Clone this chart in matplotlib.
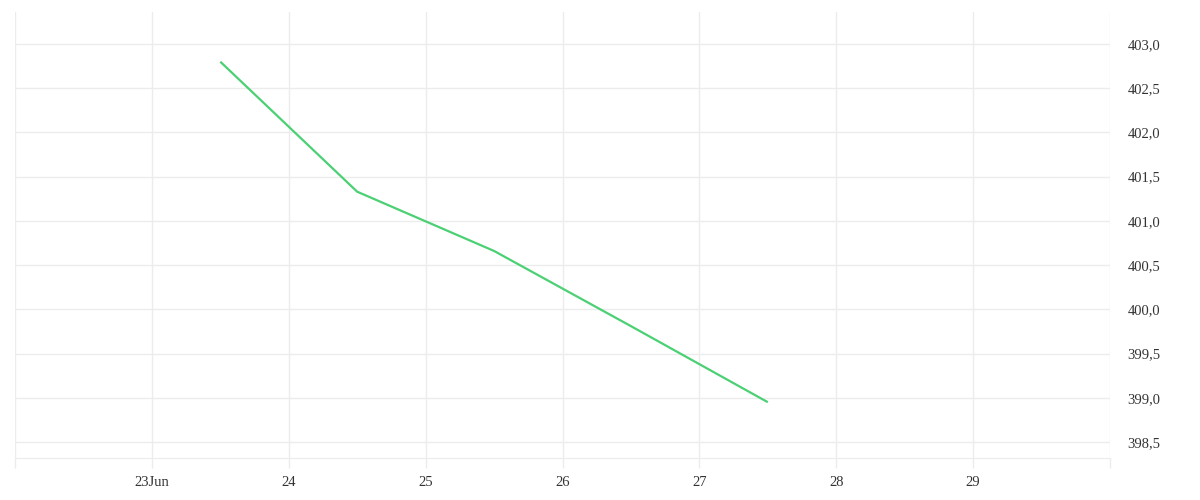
import datetime as dt
import matplotlib
matplotlib.use('Agg')
import matplotlib.pyplot as plt
import matplotlib.dates as mdates

# data
dates = [dt.datetime(2023, 6, d, 12) for d in (23, 24, 25, 26, 27)]
values = [402.80, 401.33, 400.66, 399.81, 398.95]
day_ticks = [dt.datetime(2023, 6, d) for d in range(22, 31)]
day_labels = ['', '23Jun', '24', '25', '26', '27', '28', '29', '']
y_ticks = [398.5, 399.0, 399.5, 400.0, 400.5, 401.0, 401.5, 402.0, 402.5, 403.0]

grid_col = '#ececec'
text_col = '#333333'

plt.rcParams['font.family'] = ['Liberation Serif', 'DejaVu Serif']

fig = plt.figure(figsize=(12, 5), dpi=100)
ax = fig.add_axes([15 / 1200, 1 - 458 / 500, 1095 / 1200, 446 / 500])

ax.plot(mdates.date2num(dates), values, color='#4bd074', lw=1.6,
        solid_capstyle='butt', zorder=3)

ax.set_xlim(mdates.date2num(day_ticks[0]), mdates.date2num(day_ticks[-1]))
ax.set_ylim(398.319, 403.362)

ax.set_xticks(mdates.date2num(day_ticks))
ax.set_xticklabels(day_labels)
ax.set_yticks(y_ticks)
ax.set_yticklabels([('%.1f' % v).replace('.', ',') for v in y_ticks])

ax.grid(True, color=grid_col, lw=1.0)
ax.set_axisbelow(True)

for s in ax.spines.values():
    s.set_visible(False)
ax.spines['bottom'].set_visible(True)
ax.spines['bottom'].set_color(grid_col)

ax.tick_params(axis='x', direction='out', length=7.2, width=1.0, color=grid_col,
               pad=6, labelsize=10.5, labelcolor=text_col)
ax.tick_params(axis='y', left=False, right=False, labelleft=False, labelright=True,
               pad=9, labelsize=10.5, labelcolor=text_col)
for lbl in ax.get_yticklabels():
    lbl.set_horizontalalignment('left')

fig.savefig('out.png', dpi=100, facecolor='white')
